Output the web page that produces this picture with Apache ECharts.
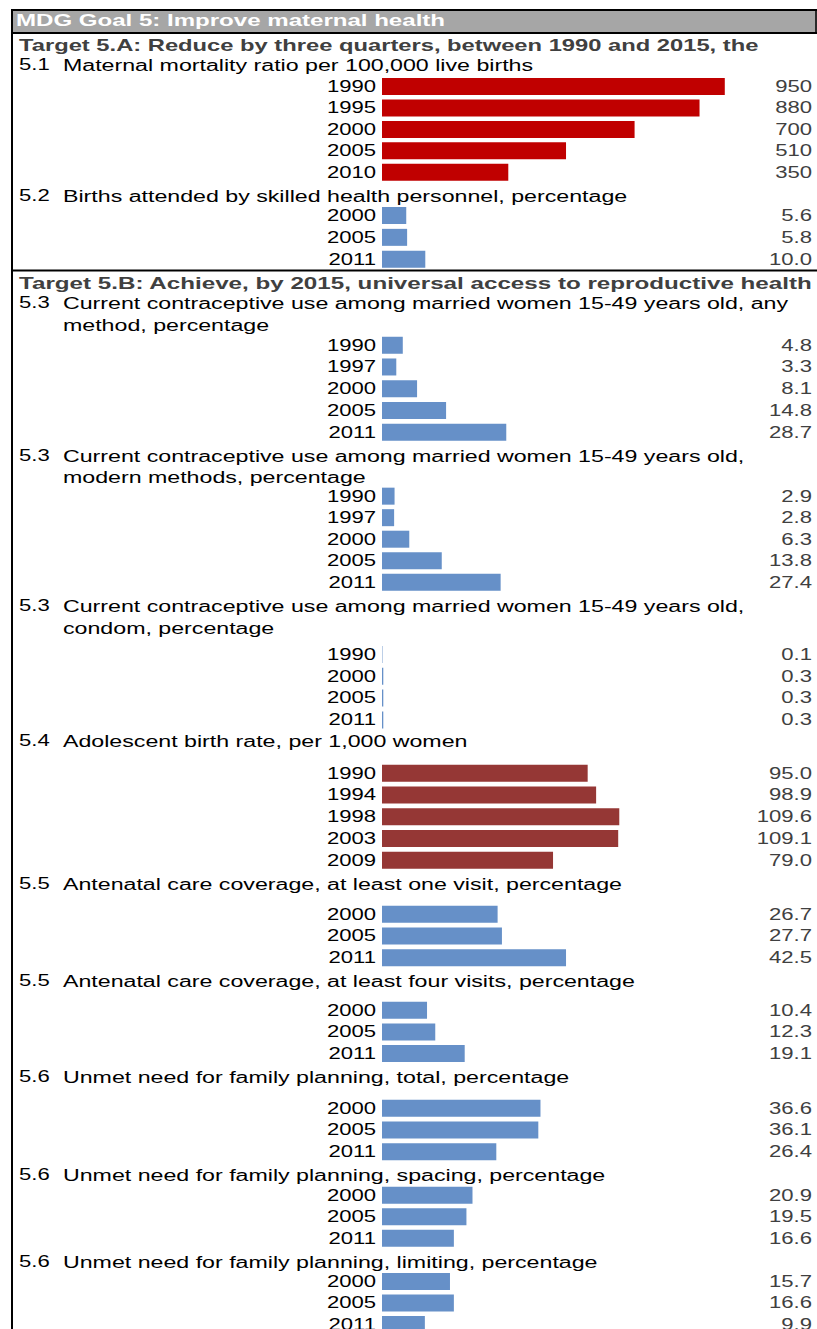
<!DOCTYPE html>
<html>
<head>
<meta charset="utf-8">
<title>MDG Goal 5: Improve maternal health</title>
<script src="https://cdn.jsdelivr.net/npm/echarts@6/dist/echarts.min.js"></script>
<style>
  html, body { margin: 0; padding: 0; background: #fff; overflow: hidden; }
  #wrap { width: 817px; height: 1329px; overflow: hidden; }
  #chart { height: 1360px; transform-origin: 0 0; }
</style>
</head>
<body>
<div id="wrap"><div id="chart"></div></div>
<script>
// the original table is drawn with horizontally stretched type, so the chart
// is laid out narrow and stretched back with css (svg keeps it sharp)
const S = 1.38;
const X = (px) => px / S;

// 5.1 maternal mortality ratio
const mmrYears = ["1990", "1995", "2000", "2005", "2010"];
const mmrValues = [950, 880, 700, 510, 350];
// 5.2 births attended by skilled personnel
const skilledYears = ["2000", "2005", "2011"];
const skilledValues = [5.6, 5.8, 10.0];
// 5.3 contraceptive use
const cprYears = ["1990", "1997", "2000", "2005", "2011"];
const cprAnyValues = [4.8, 3.3, 8.1, 14.8, 28.7];
const cprModernValues = [2.9, 2.8, 6.3, 13.8, 27.4];
const condomYears = ["1990", "2000", "2005", "2011"];
const condomValues = [0.1, 0.3, 0.3, 0.3];
// 5.4 adolescent birth rate
const abrYears = ["1990", "1994", "1998", "2003", "2009"];
const abrValues = [95.0, 98.9, 109.6, 109.1, 79.0];
// 5.5 antenatal care, 5.6 unmet need
const surveyYears = ["2000", "2005", "2011"];
const anc1Values = [26.7, 27.7, 42.5];
const anc4Values = [10.4, 12.3, 19.1];
const unmetTotalValues = [36.6, 36.1, 26.4];
const unmetSpacingValues = [20.9, 19.5, 16.6];
const unmetLimitingValues = [15.7, 16.6, 9.9];

const RED = "#c00000";
const DARKRED = "#953735";
const BLUE = "#6690c8";
const FONT = '"Liberation Sans", Arial, sans-serif';

const panels = [
  { years: mmrYears, values: mmrValues, max: 1200, digits: 0, color: RED, top: 75.8, height: 107.2 },
  { years: skilledYears, values: skilledValues, max: 100, digits: 1, color: BLUE, top: 204.5, height: 65.7 },
  { years: cprYears, values: cprAnyValues, max: 100, digits: 1, color: BLUE, top: 334.4, height: 108.6 },
  { years: cprYears, values: cprModernValues, max: 100, digits: 1, color: BLUE, top: 485.4, height: 107.6 },
  { years: condomYears, values: condomValues, max: 100, digits: 1, color: BLUE, top: 643.6, height: 87.2 },
  { years: abrYears, values: abrValues, max: 200, digits: 1, color: DARKRED, top: 762.4, height: 108.6 },
  { years: surveyYears, values: anc1Values, max: 100, digits: 1, color: BLUE, top: 903.3, height: 65.4 },
  { years: surveyYears, values: anc4Values, max: 100, digits: 1, color: BLUE, top: 999.4, height: 65 },
  { years: surveyYears, values: unmetTotalValues, max: 100, digits: 1, color: BLUE, top: 1097.4, height: 65.1 },
  { years: surveyYears, values: unmetSpacingValues, max: 100, digits: 1, color: BLUE, top: 1184.6, height: 64.4 },
  { years: surveyYears, values: unmetLimitingValues, max: 100, digits: 1, color: BLUE, top: 1270.8, height: 64.5 }
];

// headings: [y, number, text]
const headings = [
  [65, "5.1", "Maternal mortality ratio per 100,000 live births"],
  [196, "5.2", "Births attended by skilled health personnel, percentage"],
  [303, "5.3", "Current contraceptive use among married women 15-49 years old, any"],
  [325, "", "method, percentage"],
  [456, "5.3", "Current contraceptive use among married women 15-49 years old,"],
  [477, "", "modern methods, percentage"],
  [606, "5.3", "Current contraceptive use among married women 15-49 years old,"],
  [628, "", "condom, percentage"],
  [741, "5.4", "Adolescent birth rate, per 1,000 women"],
  [884, "5.5", "Antenatal care coverage, at least one visit, percentage"],
  [981, "5.5", "Antenatal care coverage, at least four visits, percentage"],
  [1077, "5.6", "Unmet need for family planning, total, percentage"],
  [1175, "5.6", "Unmet need for family planning, spacing, percentage"],
  [1262, "5.6", "Unmet need for family planning, limiting, percentage"]
];

const el = document.getElementById("chart");
el.style.width = X(817) + "px";
el.style.transform = "scaleX(" + S + ")";
const chart = echarts.init(el, null, { renderer: "svg" });

const graphic = [
  { type: "rect", z: 1, shape: { x: X(12), y: 10, width: X(805), height: 22 }, style: { fill: "#a6a6a6" } },
  { type: "line", z: 5, shape: { x1: X(11), y1: 10, x2: X(817), y2: 10 }, style: { stroke: "#000", lineWidth: 2 } },
  { type: "line", z: 5, shape: { x1: X(11), y1: 33, x2: X(817), y2: 33 }, style: { stroke: "#000", lineWidth: 2 } },
  { type: "line", z: 5, shape: { x1: X(11), y1: 270.5, x2: X(817), y2: 270.5 }, style: { stroke: "#000", lineWidth: 2 } },
  { type: "line", z: 5, shape: { x1: X(12), y1: 9, x2: X(12), y2: 1360 }, style: { stroke: "#000", lineWidth: X(2) } },
  { type: "line", z: 5, shape: { x1: X(816), y1: 9, x2: X(816), y2: 34 }, style: { stroke: "#000", lineWidth: X(1.5) } },
  { type: "text", z: 6, x: X(16), y: 21, scaleX: 1.09, style: { text: "MDG Goal 5: Improve maternal health", font: "bold 16px " + FONT, fill: "#fff", verticalAlign: "middle" } },
  { type: "text", z: 6, x: X(19), y: 45, scaleX: 1.075, style: { text: "Target 5.A: Reduce by three quarters, between 1990 and 2015, the", font: "bold 16px " + FONT, fill: "#404040", verticalAlign: "middle" } },
  { type: "text", z: 6, x: X(19), y: 283, scaleX: 1.095, style: { text: "Target 5.B: Achieve, by 2015, universal access to reproductive health", font: "bold 16px " + FONT, fill: "#404040", verticalAlign: "middle" } }
];
headings.forEach(([y, num, txt]) => {
  if (num) {
    graphic.push({ type: "text", z: 6, x: X(19), y: y, style: { text: num, font: "16px " + FONT, fill: "#000", verticalAlign: "middle" } });
  }
  graphic.push({ type: "text", z: 6, x: X(63), y: y, scaleX: 1.05, style: { text: txt, font: "16px " + FONT, fill: "#000", verticalAlign: "middle" } });
});

const grid = [], xAxis = [], yAxis = [], series = [];
panels.forEach((p, i) => {
  grid.push({ left: X(382), width: X(433), top: p.top, height: p.height });
  xAxis.push({ type: "value", gridIndex: i, min: 0, max: p.max, show: false });
  yAxis.push({
    type: "category", gridIndex: i, data: p.years, inverse: true,
    axisLine: { show: false }, axisTick: { show: false }, splitLine: { show: false },
    axisLabel: { interval: 0, margin: X(6), color: "#000", fontSize: 16, fontFamily: FONT }
  });
  yAxis.push({
    type: "category", gridIndex: i, position: "right", inverse: true,
    data: p.values.map((v) => v.toFixed(p.digits)),
    axisLine: { show: false }, axisTick: { show: false }, splitLine: { show: false },
    axisLabel: { interval: 0, align: "right", margin: -X(3), color: "#404040", fontSize: 16, fontFamily: FONT }
  });
  series.push({
    type: "bar", xAxisIndex: i, yAxisIndex: 2 * i, data: p.values,
    barWidth: 17, itemStyle: { color: p.color }, silent: true
  });
});

chart.setOption({
  animation: false,
  backgroundColor: "#fff",
  grid: grid,
  xAxis: xAxis,
  yAxis: yAxis,
  series: series,
  graphic: graphic
});
</script>
</body>
</html>
